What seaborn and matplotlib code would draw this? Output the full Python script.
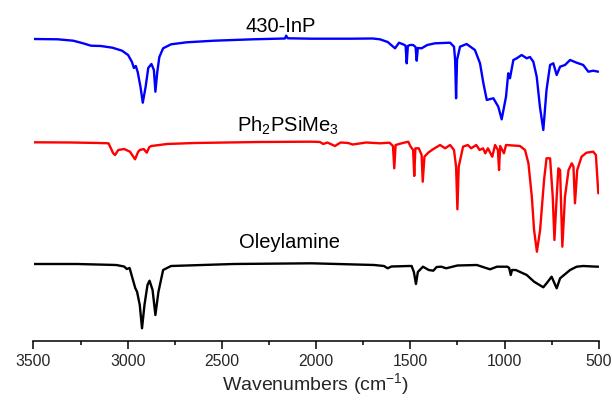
import matplotlib
matplotlib.use("Agg")
import numpy as np
import pandas as pd
import seaborn as sns
import matplotlib.pyplot as plt
from matplotlib.ticker import MultipleLocator

# ---------------- data ----------------
# signal values are offset absorbance-like units (larger = lower on the plot)
inp_wn = [3500, 3371, 3289, 3237, 3195, 3143, 3081, 3030, 2998, 2978, 2967, 2957, 2947,
          2932, 2920, 2905, 2891, 2874, 2861, 2853, 2843, 2832, 2812, 2770, 2687, 2542,
          2335, 2165, 2159, 2150, 2024, 1817, 1700, 1661, 1620, 1581, 1560, 1530, 1525,
          1519, 1513, 1502, 1485, 1472, 1466, 1460, 1440, 1410, 1369, 1289, 1268, 1262,
          1257, 1252, 1236, 1201, 1157, 1130, 1112, 1094, 1075, 1059, 1033, 1015, 992,
          980, 971, 953, 935, 909, 882, 865, 847, 829, 812, 794, 777, 758, 741, 723, 705,
          679, 652, 617, 582, 555, 529, 502]
inp_sig = [39, 39.3, 40.7, 43.3, 45.7, 46, 47.7, 50.7, 55, 61.7, 68, 66, 72,
           87, 102.7, 87, 68, 64, 70, 91.7, 72, 57, 48.3, 44.3, 42.3, 40.7,
           39.3, 38.5, 35.7, 38.3, 38.7, 38.7, 38.5, 39.3, 42, 48.3, 42.7, 45, 46,
           63.3, 46, 45, 45, 47, 60.7, 48, 48.3, 45, 43.3, 42.7, 46.7, 60,
           98.3, 60, 46.7, 44, 50, 63.3, 83.3, 100, 99, 98.3, 106.7, 119.3, 96.7,
           73.3, 78.3, 60, 58.3, 55, 58.3, 57, 61.7, 76.7, 106.7, 130, 90, 65, 63.3, 75, 66.7,
           65, 60, 62.7, 65, 71.7, 70.7, 71.7]

ph_wn = [3500, 3300, 3150, 3102, 3085, 3078, 3067, 3050, 3019, 2988, 2961, 2945, 2936,
         2915, 2899, 2885, 2874, 2791, 2646, 2300, 2024, 1980, 1962, 1940, 1900, 1870,
         1830, 1806, 1734, 1661, 1610, 1592, 1585, 1578, 1540, 1511, 1498, 1485, 1479,
         1473, 1455, 1440, 1434, 1425, 1405, 1380, 1342, 1315, 1289, 1268, 1257, 1250,
         1243, 1220, 1195, 1177, 1150, 1132, 1114, 1102, 1088, 1065, 1050, 1035, 1029,
         1023, 1003, 992, 918, 891, 873, 855, 843, 828, 811, 790, 777, 758, 744, 735,
         723, 714, 705, 693, 679, 660, 643, 634, 626, 614, 591, 565, 529, 515, 502]
ph_sig = [142.3, 142.5, 143, 143.3, 150, 153, 155, 150, 149, 151.7, 159.3, 152, 150,
          149, 152.7, 147, 146, 144, 143, 142, 141.7, 142, 144, 142.5, 146, 142.5,
          143, 144.5, 142.5, 143.3, 142.7, 146, 168.3, 145, 143, 141.7, 146.7, 150, 176,
          148.3, 148.3, 155, 181.7, 156.7, 152.7, 149.3, 145, 148.3, 145, 150, 166.7, 209.3,
          166.7, 146.7, 145, 148.3, 145, 150, 148.3, 153.3, 148.3, 156.7, 145, 150, 170,
          146, 153.3, 145, 146, 150, 163.3, 196.7, 230, 251.7, 230, 180, 158.3, 158.3, 196.7, 240,
          196.7, 168.3, 170, 246.7, 196.7, 170, 163.3, 166.7, 203.3, 170, 156.7, 152.7, 151.7, 155, 193.3]

ole_wn = [3500, 3268, 3061, 3019, 3005, 2990, 2978, 2960, 2950, 2936, 2924, 2911, 2895,
          2884, 2868, 2853, 2837, 2812, 2770, 2439, 2024, 1692, 1640, 1620, 1600, 1506,
          1493, 1481, 1470, 1460, 1450, 1433, 1402, 1378, 1360, 1335, 1310, 1250, 1147,
          1077, 1040, 985, 975, 967, 960, 940, 882, 843, 794, 770, 750, 723, 705, 652,
          617, 582, 530, 502]
ole_sig = [264, 264, 265, 266.5, 269, 268, 276, 288, 292, 305, 328.3, 305, 285,
           280.7, 290, 315, 292, 270, 266, 264, 263.3, 265, 266, 268.3, 266.5, 266,
           266, 272, 284, 272, 270, 266.7, 270, 270.7, 267, 266.7, 268.3, 265.5, 265,
           269.3, 266.7, 266.7, 268, 275, 270, 270, 275, 281.7, 287.3, 281.7, 276.7, 288.3, 278.3, 270,
           266.7, 266, 266.5, 266.7]

samples = ["430-InP", "Ph2PSiMe3", "Oleylamine"]
colors = {"430-InP": "#0000FF", "Ph2PSiMe3": "#FF0000", "Oleylamine": "#000000"}
label_text = {"430-InP": "430-InP",
              "Ph2PSiMe3": r"Ph$_\mathregular{2}$PSiMe$_\mathregular{3}$",
              "Oleylamine": "Oleylamine"}
label_wn = {"430-InP": 2190, "Ph2PSiMe3": 2150, "Oleylamine": 2140}
label_sig = {"430-InP": 31.5, "Ph2PSiMe3": 131.5, "Oleylamine": 248}

xticks = [3500, 3000, 2500, 2000, 1500, 1000, 500]

df = pd.concat([
    pd.DataFrame({"wn": inp_wn, "sig": inp_sig, "sample": "430-InP"}),
    pd.DataFrame({"wn": ph_wn, "sig": ph_sig, "sample": "Ph2PSiMe3"}),
    pd.DataFrame({"wn": ole_wn, "sig": ole_sig, "sample": "Oleylamine"}),
], ignore_index=True)

# ---------------- plot ----------------
sns.set_style("white")
plt.rcParams["font.family"] = ["Liberation Sans", "DejaVu Sans"]
plt.rcParams["mathtext.fontset"] = "custom"
plt.rcParams["mathtext.rm"] = "Liberation Sans"

fig = plt.figure(figsize=(6.12, 4.08), dpi=100)
ax = fig.add_axes([33.5 / 612, 67 / 408, 565.2 / 612, 341 / 408])

sns.lineplot(data=df, x="wn", y="sig", hue="sample", palette=colors,
             estimator=None, sort=False, linewidth=1.7, legend=False, ax=ax)
for ln in ax.get_lines():
    ln.set_solid_joinstyle("round")

for s in samples:
    ax.text(label_wn[s], label_sig[s], label_text[s], ha="center", va="baseline",
            fontsize=14.5, color="black")

ax.set_xlim(3500, 500)
ax.set_ylim(341, 0)
ax.set_xticks(xticks)
ax.xaxis.set_minor_locator(MultipleLocator(250))
ax.set_yticks([])
ax.set_ylabel("")
for sp in ["left", "top", "right"]:
    ax.spines[sp].set_visible(False)
ax.spines["bottom"].set_linewidth(1.1)
ax.spines["bottom"].set_color("black")
ax.tick_params(axis="x", which="major", direction="out", length=6, width=1.1,
               labelsize=11.3, pad=3, color="black", bottom=True)
ax.tick_params(axis="x", which="minor", direction="out", length=3, width=1.1,
               color="black", bottom=True)
ax.set_xlabel(r"Wavenumbers (cm$^\mathregular{-1}$)", fontsize=14, labelpad=2)

fig.savefig("out.png", dpi=100)
